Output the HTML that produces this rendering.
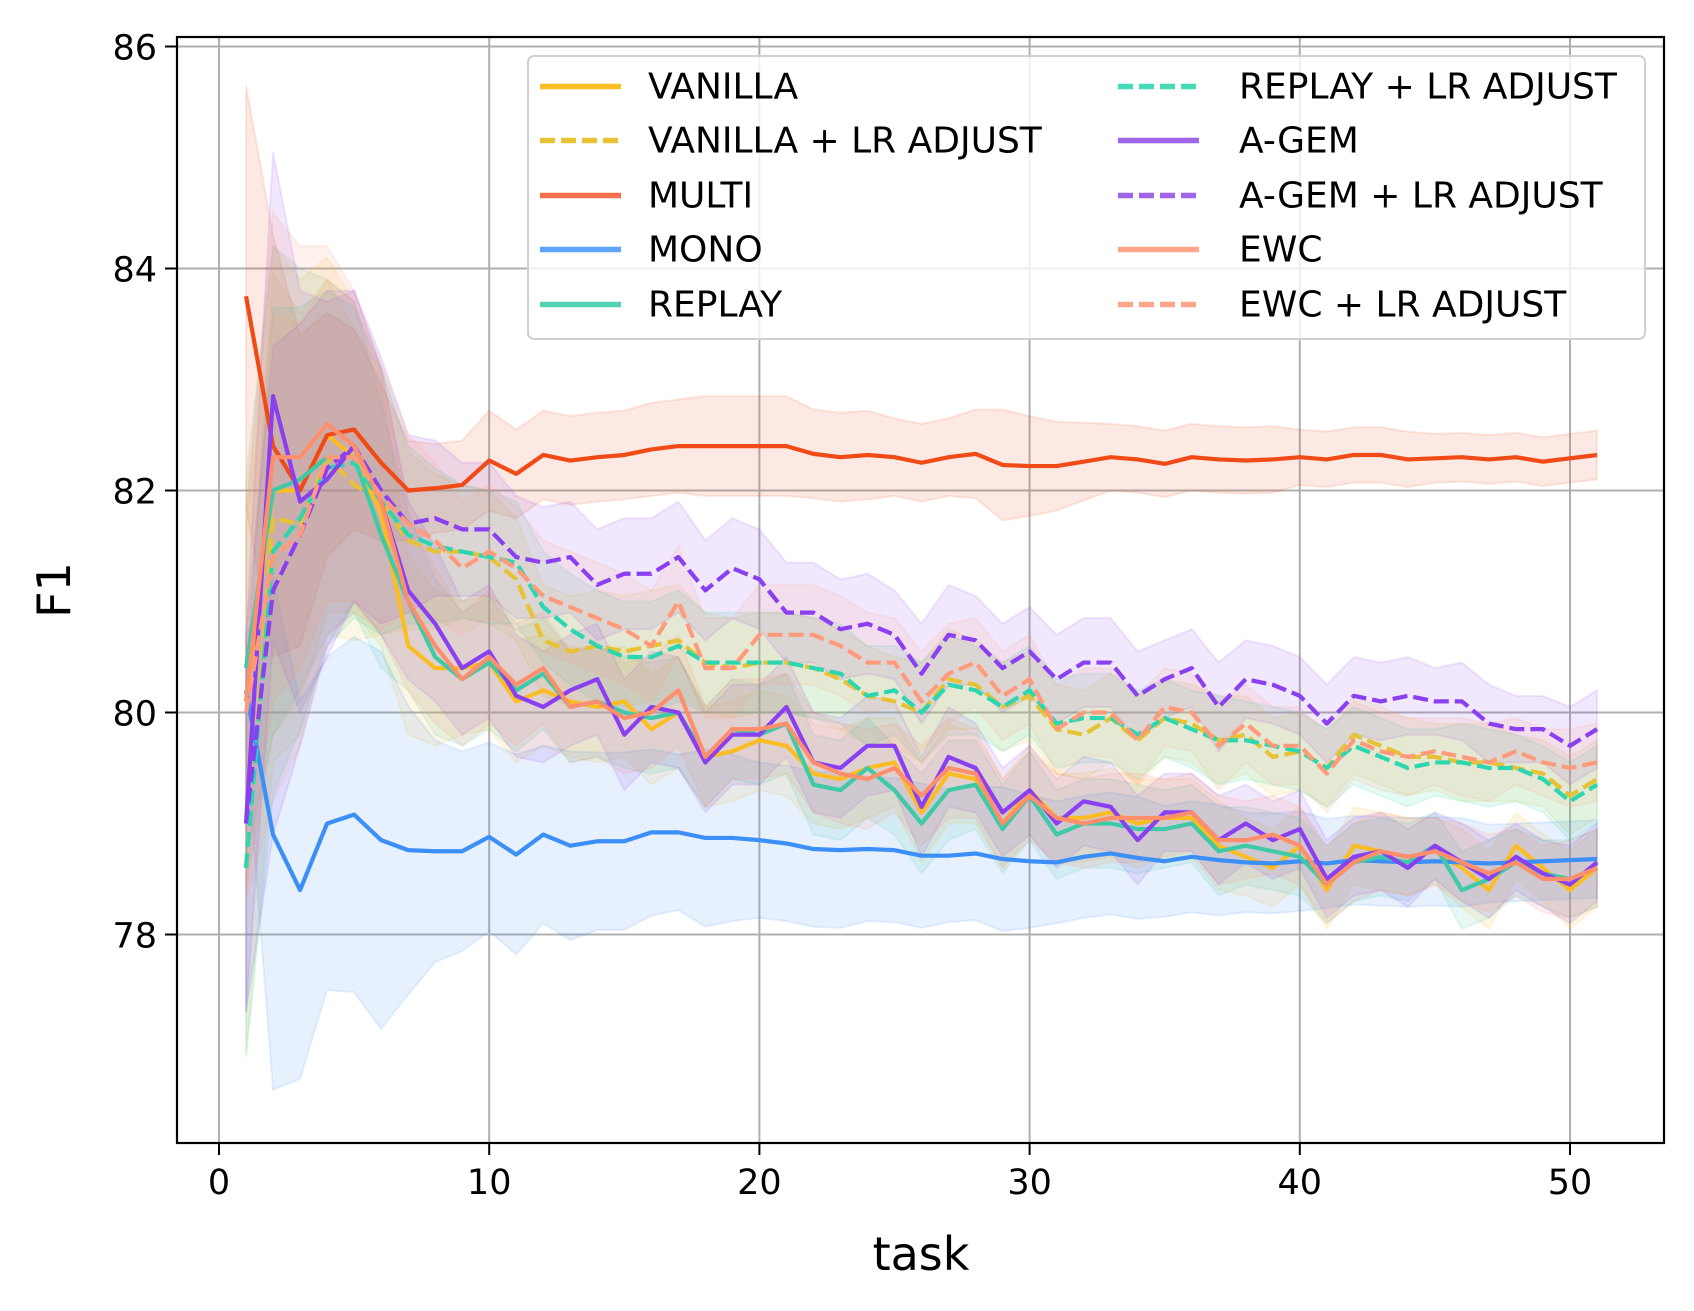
<!DOCTYPE html>
<html><head><meta charset="utf-8">
<style>
html,body{margin:0;padding:0;background:#fff;}
svg{display:block;font-family:"DejaVu Sans","Liberation Sans",sans-serif;}
</style></head>
<body>
<svg id="chart" width="1694" height="1311" viewBox="0 0 1694 1311"></svg>
<script>
const tasks = [];
for (let i = 1; i <= 51; i++) tasks.push(i);
const xTicks = [0,10,20,30,40,50];
const yTicks = [78,80,82,84,86];

const multi = [83.75,82.4,82.0,82.5,82.55,82.25,82.0,82.02,82.05,82.27,82.15,82.32,82.27,82.3,82.32,82.37,82.4,82.4,82.4,82.4,82.4,82.33,82.3,82.32,82.3,82.25,82.3,82.33,82.23,82.22,82.22,82.26,82.3,82.28,82.24,82.3,82.28,82.27,82.28,82.3,82.28,82.32,82.32,82.28,82.29,82.3,82.28,82.3,82.26,82.29,82.32];
const mono = [80.2,78.9,78.4,79.0,79.08,78.85,78.76,78.75,78.75,78.88,78.72,78.9,78.8,78.84,78.84,78.92,78.92,78.87,78.87,78.85,78.82,78.77,78.76,78.77,78.76,78.71,78.71,78.73,78.68,78.66,78.65,78.7,78.73,78.69,78.66,78.7,78.67,78.65,78.64,78.66,78.64,78.67,78.66,78.65,78.66,78.65,78.64,78.65,78.66,78.67,78.68];
const vanilla = [80.1,82.0,82.0,82.5,82.3,81.8,80.6,80.4,80.4,80.45,80.1,80.2,80.1,80.05,80.1,79.85,80.0,79.6,79.65,79.75,79.7,79.45,79.4,79.5,79.55,79.1,79.45,79.4,79.0,79.3,79.05,79.05,79.1,79.0,79.05,79.05,78.8,78.7,78.6,78.8,78.4,78.8,78.75,78.7,78.75,78.6,78.4,78.8,78.6,78.4,78.6];
const replay = [80.4,82.0,82.1,82.3,82.3,81.6,81.0,80.5,80.3,80.45,80.2,80.35,80.05,80.1,80.0,79.95,80.0,79.6,79.85,79.8,79.9,79.35,79.3,79.5,79.3,79.0,79.3,79.35,78.95,79.25,78.9,79.0,79.0,78.95,78.95,79.0,78.75,78.8,78.75,78.7,78.45,78.65,78.7,78.65,78.8,78.4,78.5,78.65,78.55,78.5,78.6];
const agem = [79.0,82.85,81.9,82.1,82.4,81.9,81.1,80.8,80.4,80.55,80.15,80.05,80.2,80.3,79.8,80.05,80.0,79.55,79.8,79.8,80.05,79.55,79.5,79.7,79.7,79.15,79.6,79.5,79.1,79.3,79.0,79.2,79.15,78.85,79.1,79.1,78.85,79.0,78.85,78.95,78.5,78.7,78.75,78.6,78.8,78.65,78.5,78.7,78.55,78.45,78.65];
const ewc = [80.1,82.3,82.3,82.6,82.4,81.9,81.0,80.6,80.3,80.5,80.25,80.4,80.05,80.1,79.95,80.0,80.2,79.6,79.85,79.85,79.9,79.55,79.45,79.4,79.5,79.25,79.5,79.45,79.0,79.25,79.05,79.0,79.05,79.05,79.05,79.1,78.85,78.85,78.9,78.8,78.45,78.65,78.75,78.7,78.75,78.65,78.55,78.65,78.5,78.5,78.6];
const vanillaLr = [78.6,81.75,81.7,82.3,82.05,81.9,81.55,81.45,81.45,81.4,81.2,80.65,80.55,80.6,80.55,80.6,80.65,80.45,80.4,80.45,80.45,80.4,80.3,80.15,80.1,80.0,80.3,80.25,80.05,80.15,79.85,79.8,79.95,79.75,79.95,79.9,79.75,79.8,79.6,79.65,79.5,79.8,79.7,79.6,79.6,79.55,79.55,79.5,79.45,79.25,79.4];
const replayLr = [78.6,81.45,81.75,82.2,82.25,81.9,81.6,81.5,81.45,81.4,81.35,80.95,80.75,80.6,80.5,80.5,80.6,80.45,80.45,80.45,80.45,80.4,80.35,80.15,80.2,80.0,80.25,80.2,80.05,80.2,79.9,79.95,79.95,79.8,79.95,79.85,79.75,79.75,79.7,79.65,79.5,79.7,79.6,79.5,79.55,79.55,79.5,79.5,79.4,79.2,79.35];
const agemLr = [79.0,81.1,81.6,82.2,82.4,82.0,81.7,81.75,81.65,81.65,81.4,81.35,81.4,81.15,81.25,81.25,81.4,81.1,81.3,81.2,80.9,80.9,80.75,80.8,80.7,80.35,80.7,80.65,80.4,80.55,80.3,80.45,80.45,80.15,80.3,80.4,80.05,80.3,80.25,80.15,79.9,80.15,80.1,80.15,80.1,80.1,79.9,79.85,79.85,79.7,79.85];
const ewcLr = [80.0,81.4,81.6,82.3,82.3,81.95,81.7,81.55,81.3,81.45,81.3,81.05,80.95,80.85,80.75,80.6,81.0,80.4,80.4,80.7,80.7,80.7,80.6,80.45,80.45,80.1,80.35,80.45,80.15,80.3,79.85,80.0,80.0,79.75,80.05,80.0,79.7,79.9,79.7,79.7,79.45,79.75,79.65,79.6,79.65,79.6,79.55,79.65,79.55,79.5,79.55];

const sdEarly = [1.7,2.2,1.9,1.6,1.4,1.2,0.8,0.7,0.6,0.6,0.55,0.5,0.5,0.5,0.5,0.5,0.5,0.45,0.45,0.45,0.45,0.45,0.45,0.45,0.4,0.45,0.45,0.4,0.4,0.4,0.4,0.4,0.4,0.4,0.35,0.35,0.4,0.35,0.35,0.35,0.35,0.35,0.35,0.35,0.3,0.35,0.35,0.3,0.3,0.35,0.35];
const sdMulti = [1.9,1.9,1.4,1.1,0.9,0.7,0.45,0.4,0.4,0.45,0.4,0.4,0.4,0.4,0.4,0.42,0.42,0.45,0.45,0.45,0.45,0.4,0.4,0.4,0.35,0.35,0.35,0.4,0.5,0.45,0.4,0.35,0.3,0.3,0.3,0.3,0.3,0.3,0.3,0.25,0.25,0.25,0.25,0.25,0.22,0.22,0.22,0.22,0.22,0.22,0.22];
const sdMono = [0.5,2.3,1.7,1.5,1.6,1.7,1.3,1.0,0.9,0.85,0.9,0.8,0.85,0.8,0.8,0.75,0.7,0.8,0.75,0.7,0.7,0.7,0.7,0.65,0.65,0.65,0.6,0.6,0.65,0.6,0.55,0.55,0.55,0.55,0.5,0.5,0.5,0.45,0.45,0.45,0.4,0.4,0.4,0.4,0.4,0.4,0.35,0.35,0.35,0.35,0.35];

const series = [
 {name:'VANILLA', key:'vanilla', data:vanilla, sd:sdEarly, color:'#fbbd23', dash:false},
 {name:'VANILLA + LR ADJUST', key:'vanilla-lr', data:vanillaLr, sd:sdEarly, color:'#e7c235', dash:true},
 {name:'MULTI', key:'multi', data:multi, sd:sdMulti, color:'#f04b16', dash:false, lcolor:'#f4704a'},
 {name:'MONO', key:'mono', data:mono, sd:sdMono, color:'#3b8ff7', dash:false, lcolor:'#5ba6fc'},
 {name:'REPLAY', key:'replay', data:replay, sd:sdEarly, color:'#3fc9a6', dash:false, lcolor:'#52d2b2'},
 {name:'REPLAY + LR ADJUST', key:'replay-lr', data:replayLr, sd:sdEarly, color:'#2bd6b0', dash:true, lcolor:'#45dab8'},
 {name:'A-GEM', key:'agem', data:agem, sd:sdEarly, color:'#8a3ff0', dash:false, lcolor:'#9f66ea'},
 {name:'A-GEM + LR ADJUST', key:'agem-lr', data:agemLr, sd:sdEarly, color:'#8a3ff0', dash:true, lcolor:'#9f66ea'},
 {name:'EWC', key:'ewc', data:ewc, sd:sdEarly, color:'#ff8e6c', dash:false, lcolor:'#ffa68a'},
 {name:'EWC + LR ADJUST', key:'ewc-lr', data:ewcLr, sd:sdEarly, color:'#ff9a7a', dash:true, lcolor:'#ffa68a'}
];

const L=177,R=1664,T=37,B=1143;
const xS = v => 219 + (v-0)*27.02;
const yS = v => 46.5 + (86-v)*111;
const NS='http://www.w3.org/2000/svg';
const svg=document.getElementById('chart');
function mk(tag, attrs, parent){const e=document.createElementNS(NS,tag);for(const k in attrs)e.setAttribute(k,attrs[k]);(parent||svg).appendChild(e);return e;}

const grid=mk('g',{});


xTicks.forEach(t=>{const l=mk('line',{x1:xS(t),x2:xS(t),y1:T,y2:B,stroke:'#b0b0b0','stroke-width':2},grid);

});
yTicks.forEach(t=>{const l=mk('line',{x1:L,x2:R,y1:yS(t),y2:yS(t),stroke:'#b0b0b0','stroke-width':2},grid);

});

series.forEach(s=>{
  let up='',lo='';
  s.data.forEach((v,i)=>{up+=(i?'L':'M')+xS(tasks[i])+','+yS(v+s.sd[i]);});
  for(let i=s.data.length-1;i>=0;i--){lo+='L'+xS(tasks[i])+','+yS(s.data[i]-s.sd[i]);}
  const p=mk('path',{d:up+lo+'Z',fill:s.color,'fill-opacity':0.12,stroke:s.color,'stroke-opacity':0.12,'stroke-width':2});
  
  
});
series.forEach(s=>{
  let d='';
  s.data.forEach((v,i)=>{d+=(i?'L':'M')+xS(tasks[i])+','+yS(v);});
  const p=mk('path',{d:d,fill:'none',stroke:s.color,'stroke-width':4.2,'stroke-linejoin':'round'});
  if(s.dash)p.setAttribute('stroke-dasharray','15,6');
  
  
});

const frame=mk('rect',{x:L,y:T,width:R-L,height:B-T,fill:'none',stroke:'#000','stroke-width':2.2});



xTicks.forEach(t=>{
  mk('line',{x1:xS(t),x2:xS(t),y1:B,y2:B+12,stroke:'#000','stroke-width':2});
  const tx=mk('text',{x:xS(t),y:B+51,'font-size':35,'text-anchor':'middle',fill:'#000'});
  tx.textContent=t;
  
  
});
yTicks.forEach(t=>{
  mk('line',{x1:L-12,x2:L,y1:yS(t),y2:yS(t),stroke:'#000','stroke-width':2});
  const tx=mk('text',{x:L-20,y:yS(t)+13,'font-size':35,'text-anchor':'end',fill:'#000'});
  tx.textContent=t;
  
  
});
const xt=mk('text',{x:921,y:1270,'font-size':46,'text-anchor':'middle',fill:'#000'});
xt.textContent='task';


const yt=mk('text',{x:0,y:0,'font-size':46,'text-anchor':'middle',fill:'#000',transform:'translate(70,590) rotate(-90)'});
yt.textContent='F1';



const lg=mk('g',{});


const lb=mk('rect',{x:528,y:56,width:1117,height:283,rx:6,fill:'#fff','fill-opacity':0.8,stroke:'#d0d0d0','stroke-width':2},lg);


const rowsY=[86.5,140.5,195.5,249.5,304.5];
series.forEach((s,i)=>{
  const col=i<5?0:1, r=i%5;
  const hx=col?1118:540;
  const g=mk('g',{},lg);
  
  
  const ln=mk('line',{x1:hx,x2:hx+81,y1:rowsY[r],y2:rowsY[r],stroke:s.lcolor||s.color,'stroke-width':5.5},g);
  if(s.dash)ln.setAttribute('stroke-dasharray','15,6');
  const t=mk('text',{x:col?1239:648,y:rowsY[r]+12,'font-size':36,fill:'#000',textLength:null},g);
  t.removeAttribute('textLength');
  t.textContent=s.name;
});
</script>
</body></html>
